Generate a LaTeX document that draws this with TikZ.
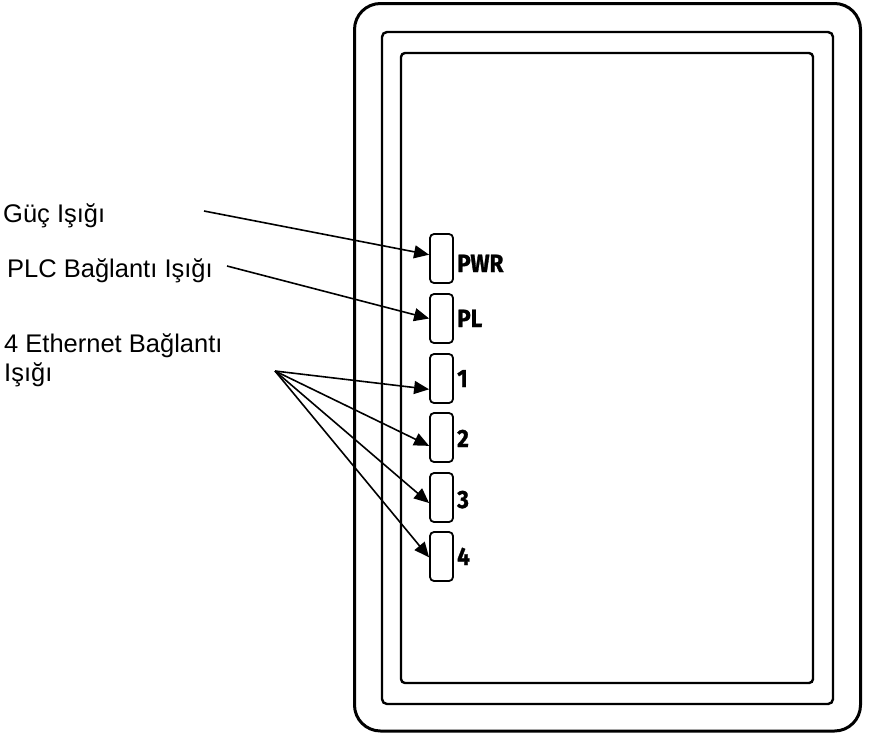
\documentclass[tikz,border=0pt]{standalone}
\usepackage{fontspec}
\setmainfont{Liberation Sans}
\newfontfamily\ledfont[FakeStretch=0.9,FakeBold=1.2]{Fira Sans}
\usetikzlibrary{arrows.meta}
\begin{document}
\begin{tikzpicture}[x=1pt,y=-1pt,
  frameline/.style={draw=black,line width=2.4pt},
  ledbox/.style={draw=black,line width=1.8pt,rounded corners=4pt,minimum width=23pt,minimum height=49pt,inner sep=0pt},
  ledlabel/.style={anchor=base west,inner sep=0pt,font=\ledfont\bfseries\fontsize{25}{27}\selectfont},
  calltext/.style={anchor=base west,inner sep=0pt,align=left,font=\fontsize{25.5}{29}\selectfont},
  callarrow/.style={draw=black,line width=1.6pt,-{Triangle[length=15pt,width=13pt]}}]
\useasboundingbox (0,0) rectangle (885,734);
% device frames
\draw[line width=3pt,rounded corners=26pt] (354.5,3.5) rectangle (860.5,731);
\draw[frameline,rounded corners=5pt] (382,32) rectangle (833,704);
\draw[frameline,rounded corners=4pt] (401,53) rectangle (813,683);
% LEDs
\node[ledbox] (pwr) at (441.5,258.5) {};
\node[ledbox] (pl)  at (441.5,318.5) {};
\node[ledbox] (e1)  at (441.5,378.5) {};
\node[ledbox] (e2)  at (441.5,437.5) {};
\node[ledbox] (e3)  at (441.5,497.5) {};
\node[ledbox] (e4)  at (441.5,556.5) {};
\node[ledlabel] (pwrl) at (457,272) {PWR};
\node[ledlabel] (pll)  at (457,327) {PL};
\node[ledlabel] (e1l)  at (457,387) {1};
\node[ledlabel] (e2l)  at (457,447) {2};
\node[ledlabel] (e3l)  at (457,508) {3};
\node[ledlabel] (e4l)  at (457,565) {4};
% callout texts
\node[calltext] (guc) at (3,222) {Güç Işığı};
\node[calltext] (plc) at (7,277) {PLC Bağlantı Işığı};
\node[calltext] (eth) at (4,381) {4 Ethernet Bağlantı\\Işığı};
\coordinate (g0) at (204,211);
\coordinate (p0) at (227,266);
\coordinate (t0) at (275,371);
% arrows
\draw[callarrow] (g0) -- (pwr.163);
\draw[callarrow] (p0) -- (pl.180);
\draw[callarrow] (t0) -- (e1.221);
\draw[callarrow] (t0) -- (e2.214);
\draw[callarrow] (t0) -- (e3.204);
\draw[callarrow] (t0) -- (e4.184);
\end{tikzpicture}
\end{document}
